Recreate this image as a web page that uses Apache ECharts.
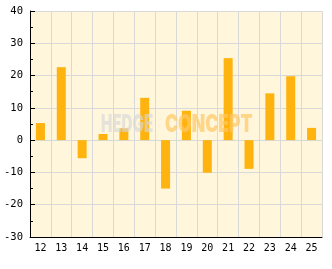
<!DOCTYPE html>
<html><head><meta charset="utf-8">
<script src="https://cdn.jsdelivr.net/npm/echarts@6/dist/echarts.min.js"></script>
<style>html,body{margin:0;padding:0;background:#fff}#c{width:332px;height:269px}</style>
</head><body><div id="c"></div>
<script>
const categories = ['12','13','14','15','16','17','18','19','20','21','22','23','24','25'];
const values = [5.3, 22.6, -5.6, 1.9, 3.7, 13.1, -15, 9.1, -10.1, 25.4, -8.9, 14.5, 19.8, 3.8];
const yMin = -30, yMax = 40, yStep = 10;

const chart = echarts.init(document.getElementById('c'), null, {renderer:'canvas'});
const font = 'DejaVu Sans Mono';
const wmFont = '900 24px Inter, "DejaVu Sans"';
chart.setOption({
  animation:false,
  backgroundColor:'#ffffff',
  grid:{left:30,right:10,top:11,bottom:32,show:true,backgroundColor:'#fff6dc',borderWidth:0},
  xAxis:{
    type:'category', data:categories, boundaryGap:true,
    axisLine:{onZero:false,lineStyle:{color:'#000',width:1}},
    axisTick:{inside:true,length:5,lineStyle:{color:'#000'}},
    axisLabel:{color:'#000',fontFamily:font,fontSize:10,margin:6},
    splitLine:{show:true,lineStyle:{color:'#d9d9d9',width:1}}
  },
  yAxis:{
    type:'value', min:yMin, max:yMax, interval:yStep,
    axisLine:{show:true,lineStyle:{color:'#000',width:1}},
    axisTick:{show:true,inside:true,length:5,lineStyle:{color:'#000'}},
    minorTick:{show:true,splitNumber:2,length:3,lineStyle:{color:'#000'}},
    axisLabel:{color:'#000',fontFamily:font,fontSize:10.5,margin:7},
    splitLine:{show:true,lineStyle:{color:'#d9d9d9',width:1}}
  },
  series:[{type:'bar',data:values,barWidth:9,itemStyle:{color:'#ffb30f'},z:2}],
  graphic:[
    {type:'text',x:101,y:125,scaleX:0.63,z:100,style:{text:'HEDGE',font:wmFont,fill:'rgba(215,215,215,0.65)',verticalAlign:'middle'}},
    {type:'text',x:165,y:125,scaleX:0.73,z:100,style:{text:'CONCEPT',font:wmFont,fill:'rgba(255,200,100,0.7)',verticalAlign:'middle'}}
  ]
});
</script></body></html>
